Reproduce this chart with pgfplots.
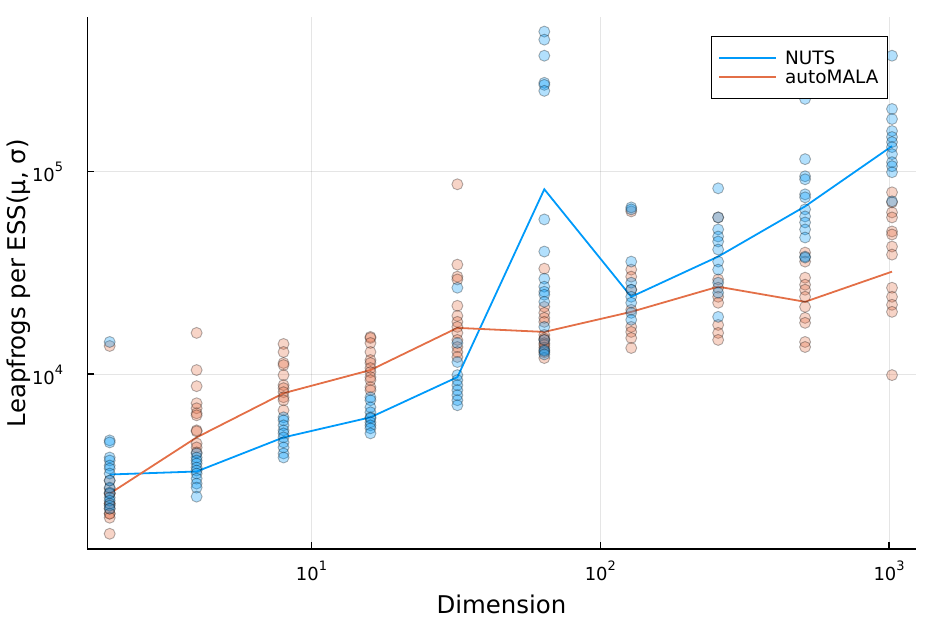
\documentclass[border=0pt]{standalone}
\usepackage{fontspec}
\setmainfont{DejaVu Sans}
\usepackage{pgfplots}
\pgfplotsset{compat=1.18}
\definecolor{nuts}{RGB}{0,154,250}
\definecolor{amala}{RGB}{227,111,71}
\newcommand{\pw}[1]{10\raisebox{10bp}{\fontsize{13}{13}\selectfont #1}}
\begin{document}
\begin{tikzpicture}
\path[use as bounding box] (0,0) rectangle (934bp,623bp);
\begin{axis}[
 at={(87.3bp,74bp)}, anchor=south west,
 scale only axis, width=828.4bp, height=531.7bp,
 xmode=log, ymode=log,
 xmin=1.673, xmax=1237, ymin=1374, ymax=573800,
 axis lines*=left,
 axis line style={line width=1.3bp, black},
 tick align=inside,
 major tick length=7bp,
 tick style={line width=1.3bp, black},
 xminorticks=false, yminorticks=false,
 xtick={10,100,1000}, xticklabels={\pw{1},\pw{2},\pw{3}},
 ytick={10000,100000}, yticklabels={\pw{4},\pw{5}},
 xticklabel style={font=\fontsize{18}{18}\selectfont, anchor=base, inner sep=0pt, yshift=-32bp},
 yticklabel style={font=\fontsize{18}{18}\selectfont, anchor=base east, inner sep=0pt, xshift=-24bp, yshift=-10bp},
 grid=major, major grid style={line width=1bp, black, opacity=0.1},
 xlabel={Dimension}, ylabel={Leapfrogs per ESS(μ, σ)},
 label style={font=\fontsize{24.5}{24.5}\selectfont, inner sep=0pt},
 xlabel style={at={(axis description cs:0.5,-0.1209)}, anchor=base},
 ylabel style={at={(axis description cs:-0.0752,0.5)}, anchor=base},
 legend style={at={(axis description cs:0.9666,0.9648)}, anchor=north east, draw=black, line width=1.3bp, fill=white, font=\fontsize{18.5}{20}\selectfont, inner xsep=7bp, inner ysep=12bp, row sep=0bp, column sep=6bp, cells={anchor=west}},
 legend image code/.code={\draw[#1] (0bp,0bp) -- (57bp,0bp);},
 nutsm/.style={only marks, mark=*, mark size=5.5bp, forget plot, mark options={draw=black, fill=nuts, draw opacity=0.3, fill opacity=0.3, line width=0.9bp}},
 amalam/.style={only marks, mark=*, mark size=5.5bp, forget plot, mark options={draw=black, fill=amala, draw opacity=0.3, fill opacity=0.3, line width=0.9bp}},
]
% autoMALA replicates
\addplot[amalam] coordinates {
(2,13760)(2,2987)(2,2727)(2,2575)(2,2575)(2,2299)(2,2299)(2,2171)(2,2051)(2,2051)(2,1959)(2,1633)
(4,15960)(4,10470)(4,8720)(4,7184)(4,6787)(4,6411)(4,6266)(4,5283)(4,5222)(4,4554)(4,4351)(4,4111)
(8,14080)(8,12850)(8,11340)(8,11080)(8,9886)(8,8821)(8,8525)(8,8145)(8,7693)(8,7435)(8,6634)
(16,15250)(16,15070)(16,14240)(16,12850)(16,11730)(16,11340)(16,10710)(16,10230)(16,9664)(16,9339)(16,8622)(16,8333)
(32,86220)(32,34640)(32,30220)(32,29280)(32,21710)(32,19370)(32,18090)(32,17090)(32,15960)(32,14740)(32,13600)(32,12850)(32,12140)
(64,33100)(64,21460)(64,20040)(64,18930)(64,18090)(64,15600)(64,15000)(64,14740)(64,14200)(64,13920)(64,13500)(64,12800)(64,12000)
(128,63390)(128,32730)(128,30220)(128,26050)(128,20740)(128,17090)(128,16140)(128,15070)(128,13450)
(256,59190)(256,29280)(256,26650)(256,24050)(256,22470)(256,17480)(256,15960)(256,14740)
(512,39720)(512,35850)(512,29870)(512,27580)(512,26050)(512,24050)(512,21460)(512,18930)(512,17890)(512,14400)(512,13600)
(1024,78710)(1024,70220)(1024,62660)(1024,59190)(1024,50470)(1024,48770)(1024,42530)(1024,38820)(1024,26650)(1024,24050)(1024,21960)(1024,20270)(1024,9886)
};
% NUTS replicates
\addplot[nutsm] coordinates {
(2,14400)(2,4713)(2,4607)(2,3882)(2,3752)(2,3544)(2,3425)(2,3235)(2,2987)(2,2758)(2,2605)(2,2461)(2,2378)(2,2247)(2,2171)
(4,4064)(4,3882)(4,3752)(4,3626)(4,3464)(4,3348)(4,3235)(4,3055)(4,2887)(4,2758)(4,2489)
(8,6125)(8,5919)(8,5591)(8,5283)(8,5104)(8,4877)(8,4607)(8,4351)(8,4064)(8,3882)
(16,7693)(16,7435)(16,6864)(16,6485)(16,6125)(16,6057)(16,5786)(16,5591)(16,5404)(16,5104)
(32,26650)(32,14240)(32,11470)(32,9886)(32,9339)(32,8821)(32,8333)(32,7871)(32,7435)(32,7022)
(64,487700)(64,445100)(64,371000)(64,272700)(64,266500)(64,248900)(64,57860)(64,40180)(64,29530)(64,26960)(64,25460)(64,24610)(64,22720)(64,17090)(64,14740)(64,13150)(64,13000)(64,12500)
(128,66340)(128,64850)(128,35850)(128,28220)(128,26050)(128,24050)(128,22470)(128,20040)(128,18510)
(256,82370)(256,59190)(256,51640)(256,47670)(256,45030)(256,41110)(256,35850)(256,32730)(256,28220)(256,25180)(256,19150)
(512,227200)(512,114700)(512,94450)(512,91270)(512,76930)(512,74350)(512,64850)(512,59860)(512,55910)(512,51640)(512,47130)(512,37950)(512,37520)
(1024,371000)(1024,202700)(1024,180900)(1024,157800)(1024,147400)(1024,139200)(1024,131500)(1024,121400)(1024,110800)(1024,105900)(1024,98860)(1024,71030)
};
\addplot[nuts, line width=1.8bp, no marks] coordinates {(2,3200)(4,3311)(8,4875)(16,6124)(32,9660)(64,81500)(128,24050)(256,37950)(512,67100)(1024,133000)};
\addlegendentry{NUTS}
\addplot[amala, line width=1.8bp, no marks] coordinates {(2,2576)(4,4875)(8,8050)(16,10470)(32,16900)(64,16140)(128,20270)(256,26970)(512,22720)(1024,31990)};
\addlegendentry{autoMALA}
\end{axis}
\end{tikzpicture}
\end{document}
